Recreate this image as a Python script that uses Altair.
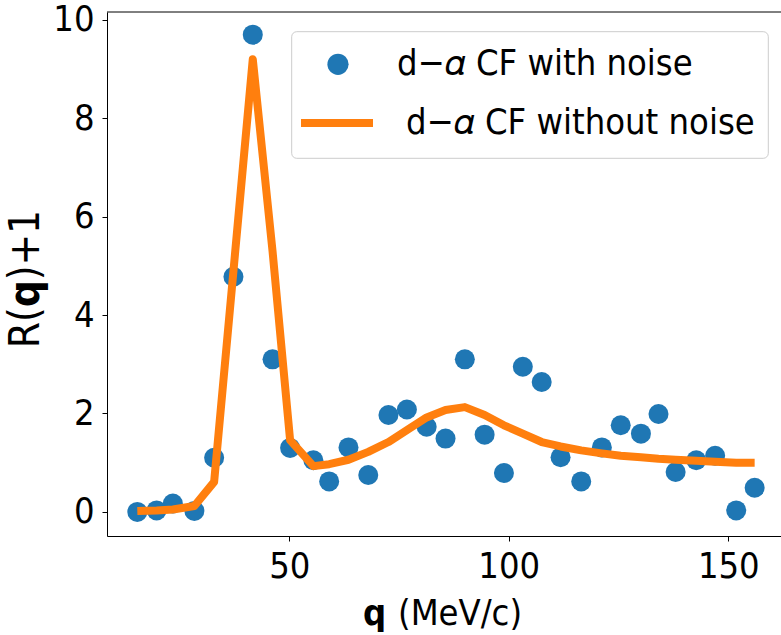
import altair as alt
import pandas as pd

# ---- data ----
q = [15.4, 19.8, 23.5, 28.4, 32.9, 37.3, 41.7, 46.2, 50.2, 55.5, 59.1, 63.5, 68.0,
     72.6, 76.8, 81.3, 85.6, 90.0, 94.5, 98.9, 103.2, 107.5, 111.8, 116.5, 121.2,
     125.5, 130.1, 134.1, 138.0, 142.7, 147.0, 151.8, 156.0]
with_noise = [0.0, 0.03, 0.17, 0.02, 1.10, 4.78, 9.70, 3.10, 1.30, 1.05, 0.62, 1.31, 0.75,
              1.97, 2.08, 1.73, 1.49, 3.10, 1.57, 0.79, 2.95, 2.64, 1.11, 0.62, 1.31,
              1.76, 1.59, 1.99, 0.81, 1.05, 1.14, 0.03, 0.49]
without_noise = [0.02, 0.03, 0.05, 0.12, 0.61, 4.9, 9.2, 5.3, 1.46, 0.93, 0.97, 1.06, 1.22,
                 1.42, 1.66, 1.92, 2.07, 2.13, 1.97, 1.76, 1.59, 1.42, 1.33, 1.25, 1.19,
                 1.14, 1.11, 1.08, 1.06, 1.04, 1.02, 1.00, 1.00]
series_labels = ["d\u2212\U0001D6FC CF with noise", "d\u2212\U0001D6FC CF without noise"]
x_ticks = [50, 100, 150]
y_ticks = [0, 2, 4, 6, 8, 10]

BLUE = "#1f77b4"
ORANGE = "#ff7f0e"
FONT = "DejaVu Sans Condensed, DejaVu Sans"
W, H = 674, 524

df_noise = pd.DataFrame({"q": q, "v": with_noise, "s": series_labels[0]})
df_clean = pd.DataFrame({"q": q, "v": without_noise, "s": series_labels[1]})

x = alt.X("q:Q", scale=alt.Scale(domain=[8.5, 162.0], nice=False, zero=False),
          axis=alt.Axis(values=x_ticks, title=None, grid=False, format="d",
                        labelFont=FONT, labelFontSize=36, labelColor="black",
                        labelPadding=8, tickSize=5, tickColor="black",
                        domainColor="black", domainWidth=1))
y = alt.Y("v:Q", scale=alt.Scale(domain=[-0.49, 10.16], nice=False, zero=False),
          axis=alt.Axis(values=y_ticks, title=None, grid=False, format="d",
                        labelFont=FONT, labelFontSize=36, labelColor="black",
                        labelPadding=8, tickSize=5, tickColor="black",
                        domainColor="black", domainWidth=1))

common_legend = dict(title=None, orient="none", labelFont=FONT, labelFontSize=36,
                     labelColor="black", labelLimit=0, padding=0, clipHeight=40)

color_noise = alt.Color(
    "s:N", scale=alt.Scale(domain=[series_labels[0]], range=[BLUE]),
    legend=alt.Legend(legendX=213, legendY=32.3, symbolType="circle", symbolSize=450,
                      labelOffset=41, symbolOpacity=1, **common_legend))
color_clean = alt.Color(
    "s:N", scale=alt.Scale(domain=[series_labels[1]], range=[ORANGE]),
    legend=alt.Legend(legendX=190, legendY=91, symbolType="stroke", symbolSize=5184,
                      symbolStrokeWidth=8, labelOffset=29, **common_legend))

# legend frame (decoration, drawn under the legends)
frame = alt.Chart(pd.DataFrame({"a": [0]})).mark_rect(
    fill="white", stroke="#cccccc", strokeWidth=1, cornerRadius=5).encode(
    x=alt.value(184.7), x2=alt.value(661.3), y=alt.value(19.7), y2=alt.value(146.3))

points = alt.Chart(df_noise).mark_circle(size=400, opacity=1).encode(x=x, y=y, color=color_noise)
line = alt.Chart(df_clean).mark_line(strokeWidth=8, strokeJoin="round").encode(
    x=x, y=y, color=color_clean)

top_spine = alt.Chart(pd.DataFrame({"a": [0]})).mark_rule(color="black", strokeWidth=1).encode(
    x=alt.value(0), x2=alt.value(W), y=alt.value(0))


def txt(text, px, py, size, weight="normal", angle=0, align="left"):
    return alt.Chart(pd.DataFrame({"t": [text]})).mark_text(
        font=FONT, fontSize=size, fontWeight=weight, angle=angle, align=align,
        baseline="alphabetic", color="black").encode(
        x=alt.value(px), y=alt.value(py), text="t:N")


titles = [
    txt("q", 256, 613, 36, weight="bold"),
    txt("(MeV/c)", 291, 613, 36),
    txt("R(", -68.5, 336.3, 42, angle=270, align="left"),
    txt("q", -68.5, 295.3, 42, weight="bold", angle=270, align="left"),
    txt(")+1", -68.5, 268.3, 42, angle=270, align="left"),
]

chart = alt.layer(points, line, top_spine, frame, *titles).resolve_scale(
    color="independent"
).properties(
    width=W, height=H,
    padding={"left": 107, "top": 12, "right": 0, "bottom": 99},
    autosize=alt.AutoSizeParams(type="none"),
).configure_view(strokeWidth=0)

chart.save("out.html", embed_options={"renderer": "svg", "actions": False})
